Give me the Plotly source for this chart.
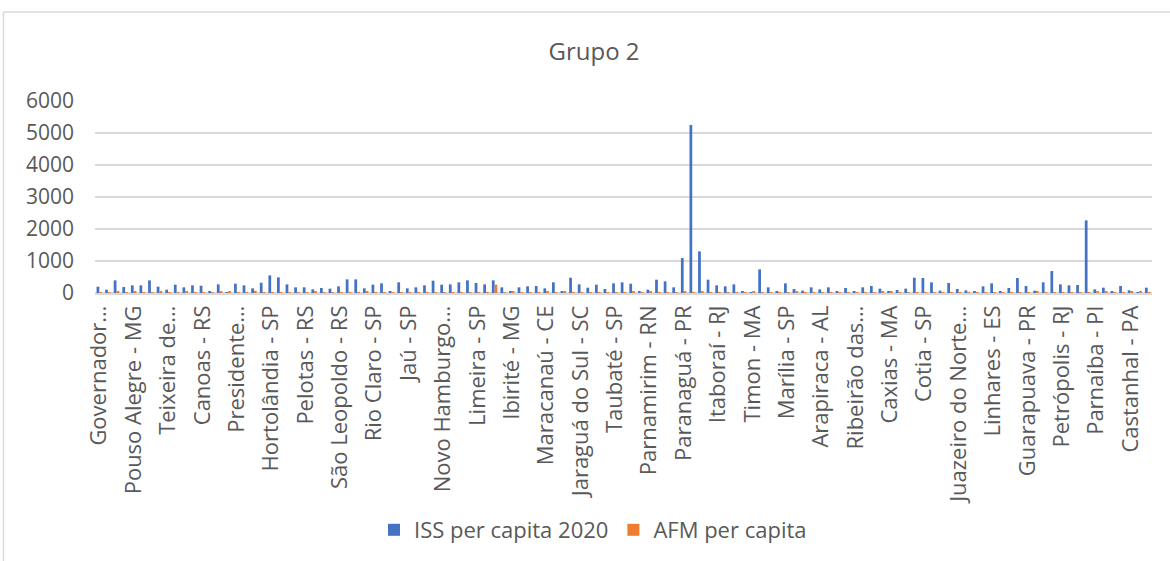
import plotly.graph_objects as go

# Labelled municipalities (every 4th category shown on the axis)
labelled = [
    "Governador Valadares - MG", "Pouso Alegre - MG", "Teixeira de Freitas - BA", "Canoas - RS",
    "Presidente Prudente - SP", "Hortolândia - SP", "Pelotas - RS", "São Leopoldo - RS",
    "Rio Claro - SP", "Jaú - SP", "Novo Hamburgo - RS", "Limeira - SP", "Ibirité - MG",
    "Maracanaú - CE", "Jaraguá do Sul - SC", "Taubaté - SP", "Parnamirim - RN",
    "Paranaguá - PR", "Itaboraí - RJ", "Timon - MA", "Marília - SP", "Arapiraca - AL",
    "Ribeirão das Neves - MG", "Caxias - MA", "Cotia - SP", "Juazeiro do Norte - CE",
    "Linhares - ES", "Guarapuava - PR", "Petrópolis - RJ", "Parnaíba - PI", "Castanhal - PA",
]
tick_text = [
    "Governador…", "Pouso Alegre - MG", "Teixeira de…", "Canoas - RS",
    "Presidente…", "Hortolândia - SP", "Pelotas - RS", "São Leopoldo - RS",
    "Rio Claro - SP", "Jaú - SP", "Novo Hamburgo…", "Limeira - SP", "Ibirité - MG",
    "Maracanaú - CE", "Jaraguá do Sul - SC", "Taubaté - SP", "Parnamirim - RN",
    "Paranaguá - PR", "Itaboraí - RJ", "Timon - MA", "Marília - SP", "Arapiraca - AL",
    "Ribeirão das…", "Caxias - MA", "Cotia - SP", "Juazeiro do Norte…",
    "Linhares - ES", "Guarapuava - PR", "Petrópolis - RJ", "Parnaíba - PI", "Castanhal - PA",
]

iss_2020 = [
    198, 104, 395, 187, 239, 239, 395, 198, 104, 260,
    177, 239, 229, 52, 270, 20, 291, 239, 146, 322,
    551, 489, 270, 177, 177, 114, 156, 135, 208, 426,
    426, 146, 260, 302, 42, 333, 146, 177, 239, 385,
    260, 270, 333, 395, 312, 270, 395, 177, 42, 177,
    208, 218, 146, 333, 52, 478, 270, 166, 260, 125,
    302, 333, 291, 42, 104, 416, 364, 177, 1092, 5250,
    1300, 416, 239, 208, 270, 52, 20, 738, 177, 62,
    302, 125, 73, 177, 114, 177, 62, 156, 52, 177,
    218, 135, 52, 94, 135, 478, 468, 333, 73, 312,
    125, 83, 52, 208, 302, 52, 156, 468, 218, 73,
    333, 686, 270, 239, 250, 2270, 114, 166, 52, 218,
    83, 5, 166,
]
afm = [
    30, 25, 35, 20, 40, 20, 30, 60, 25, 30,
    45, 20, 25, 20, 45, 60, 20, 30, 70, 20,
    25, 20, 15, 20, 15, 50, 25, 20, 20, 25,
    30, 60, 20, 25, 30, 20, 25, 20, 25, 20,
    30, 25, 20, 15, 25, 20, 260, 30, 40, 20,
    25, 30, 50, 25, 60, 30, 20, 20, 15, 20,
    25, 20, 45, 20, 40, 25, 20, 20, 40, 20,
    45, 25, 20, 20, 20, 20, 60, 20, 20, 25,
    20, 35, 20, 30, 20, 20, 25, 20, 20, 25,
    30, 40, 55, 20, 25, 20, 20, 30, 25, 20,
    20, 25, 30, 20, 25, 20, 25, 20, 20, 60,
    20, 25, 20, 20, 20, 20, 50, 60, 20, 20,
    35, 55, 25,
]

# Build the full category list: labelled names every 4th position, others unnamed
n = len(iss_2020)
categories = []
li = 0
for i in range(n):
    if i % 4 == 0 and li < len(labelled):
        categories.append(labelled[li])
        li += 1
    else:
        categories.append(f"Município {i + 1}")
tick_vals = [categories[i] for i in range(0, n, 4)][: len(tick_text)]

FONT = "Open Sans"
GRAY = "#595959"

fig = go.Figure()
fig.add_trace(go.Bar(x=categories, y=iss_2020, name="ISS per capita 2020",
                     marker=dict(color="#4472C4", line=dict(width=0))))
fig.add_trace(go.Bar(x=categories, y=afm, name="AFM per capita",
                     marker=dict(color="#ED7D31", line=dict(width=0))))

W, H = 1170, 561
L, R, T, B = 95, 18, 101, 268
pw, ph = W - L - R, H - T - B


def px(xp):
    return (xp - L) / pw


def py(yp):
    return (H - B - yp) / ph


fig.update_layout(
    width=W, height=H,
    margin=dict(l=L, r=R, t=T, b=B, autoexpand=False),
    paper_bgcolor="white", plot_bgcolor="white",
    barmode="group", bargap=0.36, bargroupgap=0.0,
    font=dict(family=FONT, color=GRAY, size=22),
    title=dict(text="Grupo 2", xref="container", x=594 / W, xanchor="center",
               y=1 - 52 / H, yanchor="middle",
               font=dict(family=FONT, size=24, color=GRAY)),
    showlegend=True,
    legend=dict(orientation="h", x=px(374), xanchor="left", y=py(530), yanchor="middle",
                font=dict(family=FONT, size=22, color=GRAY), traceorder="normal",
                itemwidth=30, bgcolor="rgba(0,0,0,0)"),
    xaxis=dict(type="category", tickmode="array", tickvals=tick_vals, ticktext=tick_text,
               tickangle=-90, showgrid=False, showline=True, linecolor="#d9d9d9", linewidth=1.5,
               ticks="", ticklabelstandoff=2, tickfont=dict(family=FONT, size=22, color=GRAY)),
    yaxis=dict(range=[0, 6000], dtick=1000, showgrid=True, gridcolor="#d9d9d9", gridwidth=1.5,
               zeroline=True, zerolinecolor="#d9d9d9", zerolinewidth=1.5, showline=False,
               ticks="", ticklabelstandoff=20, tickfont=dict(family=FONT, size=21, color=GRAY)),
    shapes=[
        dict(type="line", xref="paper", yref="paper", x0=px(3.5), x1=px(1175), y0=py(12), y1=py(12),
             line=dict(color="#d9d9d9", width=1.5)),
        dict(type="line", xref="paper", yref="paper", x0=px(3.5), x1=px(3.5), y0=py(12), y1=py(570),
             line=dict(color="#d9d9d9", width=1.5)),
    ],
)

fig.write_html("out.html", config={"displayModeBar": False},
               post_script="document.body.style.margin='0';document.body.style.overflow='hidden';")
